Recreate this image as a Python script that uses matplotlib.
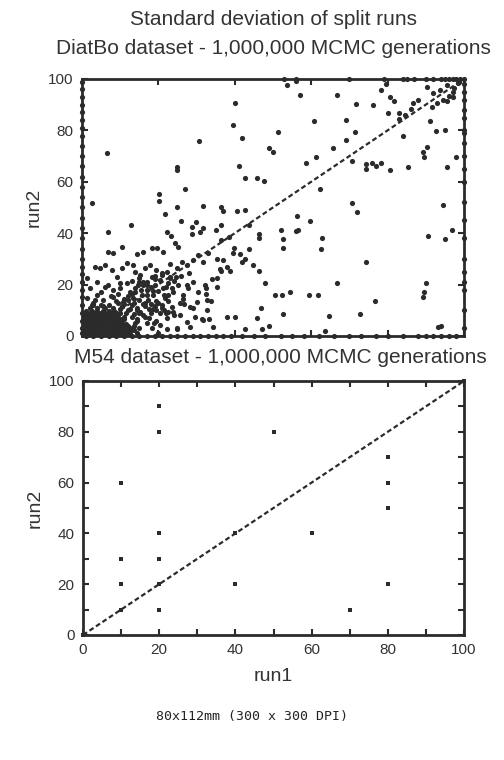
import matplotlib
matplotlib.use("Agg")
import matplotlib.pyplot as plt
from matplotlib.ticker import MultipleLocator

plt.rcParams['font.family'] = ['Liberation Sans', 'DejaVu Sans']

INK = '#2b2b2b'

# ---- DiatBo dataset: split-run standard deviations (run1, run2) ----
# dense corner near the origin
blob_x = [0.5, 1.5, 2.5, 3.5, 4.5, 5.5, 6.5, 7.5, 8.5, 9.5, 10.5, 11.5, 12.5,
          0.5, 1.5, 2.5, 3.5, 4.5, 5.5, 6.5, 7.5, 8.5, 9.5, 10.5, 11.5, 12.5,
          0.5, 1.5, 2.5, 3.5, 4.5, 5.5, 6.5, 7.5, 8.5, 9.5, 10.5, 11.5, 12.5,
          0.5, 1.5, 2.5, 3.5, 4.5, 5.5, 6.5, 7.5, 8.5, 9.5, 10.5, 11.5,
          0.5, 1.5, 2.5, 3.5, 4.5, 5.5, 6.5, 7.5, 8.5, 9.5, 10.5,
          0.5, 1.5, 2.5, 3.5, 4.5, 5.5, 6.5, 7.5, 8.5, 9.5, 11.0,
          0.5, 1.5, 2.5, 3.5, 4.5, 5.5, 6.5, 7.5, 9.0, 11.5,
          1.0, 2.5, 4.0, 5.5, 7.0, 8.5, 10.0, 13.5, 14.0, 13.0, 14.5,
          1.0, 2.0, 3.0, 4.0, 5.0, 6.0, 7.0, 8.0, 9.0, 10.0, 11.0, 12.0,
          1.0, 2.0, 3.0, 4.0, 5.0, 6.0, 7.0, 8.0, 9.0, 10.0, 11.0, 12.0,
          1.0, 2.0, 3.0, 4.0, 5.0, 6.0, 7.0, 8.0, 9.0, 10.0, 11.0,
          1.0, 2.0, 3.0, 4.0, 5.0, 6.0, 7.0, 8.0, 9.0, 10.0,
          2.0, 4.0, 6.0, 8.0, 3.0, 5.0, 7.0, 13.5, 14.5, 15.0]
blob_y = [0.7, 0.7, 0.7, 0.7, 0.7, 0.7, 0.7, 0.7, 0.7, 0.7, 0.7, 0.7, 0.7,
          2.0, 2.0, 2.0, 2.0, 2.0, 2.0, 2.0, 2.0, 2.0, 2.0, 2.0, 2.0, 2.0,
          3.3, 3.3, 3.3, 3.3, 3.3, 3.3, 3.3, 3.3, 3.3, 3.3, 3.3, 3.3, 3.3,
          4.6, 4.6, 4.6, 4.6, 4.6, 4.6, 4.6, 4.6, 4.6, 4.6, 4.6, 4.6,
          5.9, 5.9, 5.9, 5.9, 5.9, 5.9, 5.9, 5.9, 5.9, 5.9, 5.9,
          7.2, 7.2, 7.2, 7.2, 7.2, 7.2, 7.2, 7.2, 7.2, 7.2, 7.5,
          8.5, 8.5, 8.5, 8.5, 8.5, 8.5, 8.5, 8.5, 8.5, 9.0,
          9.8, 9.8, 9.8, 9.8, 9.8, 9.8, 10.5, 2.5, 5.0, 7.5, 1.0,
          1.3, 1.3, 1.3, 1.3, 1.3, 1.3, 1.3, 1.3, 1.3, 1.3, 1.3, 1.3,
          3.9, 3.9, 3.9, 3.9, 3.9, 3.9, 3.9, 3.9, 3.9, 3.9, 3.9, 3.9,
          6.5, 6.5, 6.5, 6.5, 6.5, 6.5, 6.5, 6.5, 6.5, 6.5, 6.5,
          9.1, 9.1, 9.1, 9.1, 9.1, 9.1, 9.1, 9.1, 9.1, 9.1,
          11.0, 11.0, 11.0, 11.0, 12.0, 12.0, 12.0, 4.0, 6.0, 3.0]

# scatter around the diagonal up to ~35
mid_x = [6.9, 8.0, 10.4, 14.5, 15.9, 18.2, 19.7, 21.1, 3.4, 4.7, 6.0, 7.8, 10.4, 11.7,
         13.4, 13.9, 15.2, 16.5, 17.8, 19.5, 20.9, 22.2, 23.0, 24.8, 26.1, 27.4, 29.1,
         30.4, 31.8, 1.2, 2.1, 3.8, 5.1, 6.9, 9.1, 10.0, 11.7, 12.6, 14.7, 16.0, 16.9,
         18.2, 19.1, 20.4, 21.3, 22.6, 23.9, 25.2, 26.5, 27.8, 29.1, 30.4, 32.2, 1.2,
         3.0, 5.6, 8.2, 10.8, 13.4, 15.6, 17.4, 18.7, 20.0, 21.7, 23.5, 25.7, 28.3,
         30.0, 32.6, 25.7, 27.4, 29.6, 22.2, 20.4, 18.2, 16.9, 16.0, 15.2, 14.3, 20.0,
         24.8, 31.8, 32.6, 13.0, 14.5, 16.0, 17.5, 19.0, 14.0, 15.5, 17.0, 18.5, 12.5,
         13.5, 15.0, 16.5, 18.0, 19.5, 21.0, 22.5, 24.0, 12.0, 13.0, 11.0, 15.0, 17.0,
         19.0, 21.5, 23.5, 26.0, 28.0, 34.0, 36.0, 38.0,
         12.0, 13.5, 15.0, 16.5, 18.0, 19.5, 21.0, 22.5, 14.0, 16.0, 18.0, 20.0, 22.0,
         24.0, 13.0, 15.0, 17.0, 19.0, 21.0, 23.0, 14.5, 16.5, 18.5, 20.5, 22.5, 17.5,
         19.5, 21.5, 9.0, 10.5, 12.0, 9.5, 11.0, 8.0, 10.0, 4.0, 6.0, 2.5, 3.5, 5.5,
         7.5, 9.5, 26.5, 27.5, 24.5, 23.0]
mid_y = [32.8, 32.2, 34.8, 31.8, 32.5, 34.1, 34.1, 32.8, 27.0, 26.3, 27.6, 25.7, 26.3, 28.3,
         27.6, 25.0, 23.7, 26.3, 27.6, 25.7, 23.7, 25.0, 22.4, 26.3, 28.9, 27.6, 29.6,
         31.5, 28.9, 22.4, 18.5, 21.1, 17.2, 19.8, 23.1, 18.5, 20.5, 17.2, 19.8, 21.1, 17.9,
         23.1, 19.8, 21.8, 18.5, 20.5, 17.2, 19.8, 15.9, 18.5, 21.1, 17.2, 19.8, 14.7,
         12.7, 14.0, 15.3, 13.3, 14.7, 15.9, 14.0, 15.9, 12.7, 14.7, 11.4, 12.7, 11.4,
         13.3, 14.0, 8.2, 5.6, 7.5, 6.9, 4.3, 3.0, 5.0, 8.2, 9.5, 6.6, 1.0,
         3.0, 6.2, 10.1, 12.0, 11.0, 12.5, 10.5, 11.5, 17.0, 18.0, 16.0, 17.5, 10.5,
         8.5, 9.0, 7.5, 9.0, 10.0, 11.0, 9.5, 8.0, 14.0, 16.5, 12.5, 21.0, 20.0,
         22.0, 16.0, 18.5, 23.5, 24.5, 22.0, 26.0, 27.0,
         15.5, 13.0, 14.0, 13.0, 12.5, 13.5, 12.0, 16.0, 18.5, 20.0, 19.0, 17.5, 19.0,
         21.5, 21.5, 22.5, 21.0, 23.5, 24.5, 23.0, 10.0, 11.5, 10.5, 9.0, 13.5, 7.0,
         6.0, 10.0, 13.5, 11.5, 10.0, 16.5, 14.5, 18.0, 20.5, 16.0, 19.0, 12.0, 14.0, 11.5,
         15.5, 13.0, 14.5, 20.0, 23.0, 28.0]

# sparse points over the rest of the field
far_x = [6.5, 2.7, 6.7, 12.7, 30.6, 40.0, 39.5, 41.8, 41.2, 42.7, 45.9, 47.6, 49.0, 50.0,
         51.4, 53.6, 56.0, 57.2, 58.6, 61.3, 60.7, 65.6, 66.7, 69.0, 69.1, 71.7, 71.6,
         70.6, 74.3, 74.3, 76.0, 77.0, 78.3, 76.1, 78.3, 79.6, 80.6, 81.8, 80.1, 82.9,
         84.1, 85.3, 80.6, 89.4, 89.6, 90.2, 91.1, 92.8, 95.0, 95.5, 98.0, 94.4, 96.8,
         95.0, 90.5, 90.0, 89.6, 89.3, 93.3, 94.0, 76.8, 74.3, 72.8, 72.0, 70.7, 66.7,
         64.6, 62.7, 62.6, 62.3, 61.8, 59.4, 59.7, 56.4, 56.6, 56.0, 52.7, 52.5, 52.0,
         54.5, 52.3, 52.7, 50.5, 48.0, 46.4, 44.7, 43.8, 42.8, 41.8, 46.4, 46.4, 43.8,
         40.5, 42.7, 36.4, 37.0, 31.8, 25.0, 27.0, 25.0, 25.0, 20.1, 20.1, 21.6, 22.2,
         23.4, 24.3, 25.2, 26.0, 28.7, 28.7, 29.8, 30.9, 31.6, 35.1, 36.4, 36.3, 38.4,
         39.9, 41.4, 32.9, 35.3, 37.0, 38.8, 39.6, 35.3, 35.3, 36.4, 32.5, 32.5, 33.9,
         29.1, 26.7, 23.9, 22.0, 18.9, 22.2, 24.8, 28.3, 31.3, 33.2, 37.9, 40.0, 34.2,
         42.7, 47.0, 45.7, 46.9, 49.0, 63.6, 86.7, 90.2, 93.7, 95.5, 97.2, 98.5, 96.0,
         97.5, 94.5, 92.0, 88.0, 86.0, 84.5, 83.0, 91.5, 93.0, 95.5, 97.0, 98.8]
far_y = [71.3, 51.6, 40.5, 43.0, 75.9, 90.8, 82.2, 77.0, 66.3, 61.5, 61.5, 60.4, 73.0, 71.6,
         79.5, 97.7, 99.4, 93.6, 67.4, 69.8, 83.5, 73.2, 93.9, 84.0, 76.3, 90.1, 79.5,
         68.2, 67.0, 64.8, 67.3, 66.0, 67.3, 89.9, 95.7, 97.9, 92.9, 91.3, 86.6, 86.9,
         77.8, 65.9, 64.6, 71.5, 69.7, 73.4, 83.5, 79.8, 80.2, 65.9, 69.8, 50.8, 41.2,
         37.6, 39.0, 20.8, 17.0, 15.0, 3.4, 4.0, 13.7, 28.7, 8.6, 48.2, 51.6, 20.8,
         7.8, 38.0, 33.7, 57.3, 16.1, 16.1, 44.6, 46.7, 41.2, 41.0, 37.7, 34.4, 41.2,
         17.0, 16.0, 8.4, 16.0, 20.8, 25.4, 27.8, 33.9, 30.1, 28.7, 39.7, 38.0, 43.0,
         48.5, 49.0, 50.3, 48.5, 50.6, 50.3, 57.1, 65.9, 64.5, 55.3, 52.4, 47.6, 40.6,
         39.0, 36.3, 34.8, 44.9, 42.5, 39.7, 44.5, 40.6, 41.9, 41.2, 43.3, 37.4, 38.6,
         34.1, 31.8, 32.2, 30.0, 29.6, 25.4, 32.2, 22.4, 18.9, 25.4, 18.7, 16.5, 13.7,
         10.8, 12.5, 9.5, 8.8, 4.9, 2.6, 2.6, 3.6, 6.5, 6.7, 7.3, 7.5, 3.4,
         2.6, 2.6, 7.0, 10.8, 4.0, 1.9, 90.8, 97.0, 95.7, 97.7, 95.0, 98.3, 93.5,
         96.5, 92.0, 94.5, 92.0, 88.5, 86.0, 84.5, 89.0, 90.5, 91.5, 93.0, 99.0]

# points sitting on the frame
left_y = [1, 3, 6, 9, 12, 15, 18, 21, 24, 27, 30, 34, 38, 42, 46, 50, 54, 58, 62, 66,
          70, 74, 78, 81, 84, 87, 90, 93, 96, 99]
bottom_x = [1, 3, 5, 7, 9, 11, 13, 15, 17, 19, 21, 23, 25, 27, 29, 31, 33, 35, 37, 39,
            42, 45, 48, 52, 55, 58, 62, 66, 70, 73, 77, 80, 84, 88, 90, 92, 94, 96, 98]
right_y = [3, 10, 18, 21, 25, 30, 38, 45, 52, 60, 65, 70, 75, 79, 80, 85, 88, 92, 95,
           98, 100]
top_x = [53, 56, 70, 79, 84, 85, 87, 90, 92, 94, 95, 96, 97, 98, 99]

# ---- M54 dataset ----
m54_run1 = [20, 20, 50, 10, 80, 80, 80, 20, 60, 10, 20, 10, 40, 80, 20, 70, 10, 20, 40, 100, 0]
m54_run2 = [90, 80, 80, 60, 70, 60, 50, 40, 40, 30, 30, 20, 20, 20, 10, 10, 10, 20, 40, 100, 0]

top_run1 = blob_x + mid_x + far_x + [0] * len(left_y) + bottom_x + [100] * len(right_y) + top_x
top_run2 = blob_y + mid_y + far_y + left_y + [0] * len(bottom_x) + right_y + [100] * len(top_x)


def style_axes(ax, minor):
    ax.set_xlim(0, 100)
    ax.set_ylim(0, 100)
    ax.xaxis.set_major_locator(MultipleLocator(20))
    ax.yaxis.set_major_locator(MultipleLocator(20))
    if minor:
        ax.xaxis.set_minor_locator(MultipleLocator(10))
        ax.yaxis.set_minor_locator(MultipleLocator(10))
    ax.tick_params(which='both', direction='in', top=True, right=True,
                   length=4, width=1.5, color=INK, labelsize=11, labelcolor='#333333', pad=6)
    for s in ax.spines.values():
        s.set_linewidth(2)
        s.set_color(INK)
    ax.plot([0, 100], [0, 100], color=INK, lw=1.6, ls=(0, (2.2, 1.3)), zorder=2)
    ax.set_ylabel('run2', fontsize=14, color='#333333', labelpad=4)


fig = plt.figure(figsize=(5.04, 7.6), dpi=100)

ax1 = fig.add_axes([0.1627, 0.5579, 0.7579, 0.3382])
style_axes(ax1, minor=False)
ax1.scatter(top_run1, top_run2, s=14, color=INK, linewidths=0, clip_on=False, zorder=3)
ax1.set_xticklabels([])

ax2 = fig.add_axes([0.1647, 0.1645, 0.7560, 0.3342])
style_axes(ax2, minor=True)
ax2.scatter(m54_run1, m54_run2, s=9, marker='s', color=INK, linewidths=0, clip_on=False, zorder=3)
ax2.set_xlabel('run1', fontsize=14, color='#333333', labelpad=8)

fig.text(0.542, 0.974, 'Standard deviation of split runs', ha='center', va='center',
         fontsize=15, color='#333333')
fig.text(0.542, 0.936, 'DiatBo dataset - 1,000,000 MCMC generations', ha='center', va='center',
         fontsize=15, color='#333333')
fig.text(0.556, 0.530, 'M54 dataset - 1,000,000 MCMC generations', ha='center', va='center',
         fontsize=15, color='#333333')
fig.text(0.5, 0.057, '80x112mm (300 x 300 DPI)', ha='center', va='center',
         fontsize=9.5, family='DejaVu Sans Mono', color='#222222')

fig.savefig('out.png', dpi=100)
